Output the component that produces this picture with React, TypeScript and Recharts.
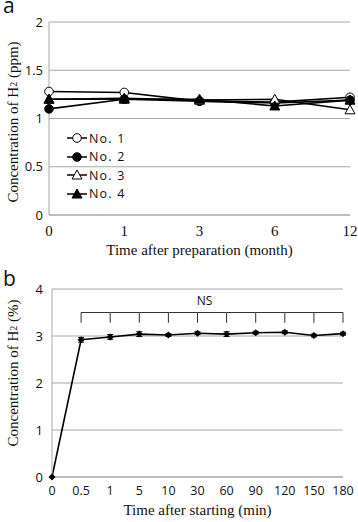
import React from "react";
import {
    LineChart,
    Line,
    XAxis,
    YAxis,
    CartesianGrid,
    Legend,
    ErrorBar,
    ReferenceDot,
} from "recharts";

// panel a: H2 concentration (ppm) over storage months
const months = ["0", "1", "3", "6", "12"];
const no1 = [1.28, 1.27, 1.18, 1.17, 1.22];
const no2 = [1.1, 1.2, 1.18, 1.16, 1.19];
const no3 = [1.2, 1.21, 1.19, 1.2, 1.09];
const no4 = [1.2, 1.2, 1.2, 1.13, 1.19];
const ticksA = [0, 0.5, 1, 1.5, 2];

// panel b: H2 concentration (%) after starting
const minutes = ["0", "0.5", "1", "5", "10", "30", "60", "90", "120", "150", "180"];
const percent = [0, 2.92, 2.98, 3.04, 3.02, 3.06, 3.04, 3.07, 3.08, 3.01, 3.05];
const percentErr = [0, 0.05, 0.05, 0.05, 0.03, 0.03, 0.05, 0.03, 0.03, 0.03, 0.03];
const ticksB = [0, 1, 2, 3, 4];
const bracketLevel = 3.5;
const bracketDrop = 0.22;

const dataA = months.map((m, i) => ({
    month: m,
    no1: no1[i],
    no2: no2[i],
    no3: no3[i],
    no4: no4[i],
}));

const dataB = minutes.map((m, i) => ({
    min: m,
    pct: percent[i],
    err: percentErr[i],
    bracket: i === 0 ? null : bracketLevel,
    bracketErr: i === 0 ? undefined : [bracketDrop, 0],
}));

const GRID = "#a8a8a8";
const SERIF = "'Liberation Serif', 'Times New Roman', serif";
const SANS = "'Open Sans', 'Liberation Sans', sans-serif";

type Shape = "circle" | "triangle";

function Marker({ cx, cy, shape, filled }: { cx: number; cy: number; shape: Shape; filled: boolean }) {
    const fill = filled ? "#000" : "#fff";
    if (shape === "circle") {
        return <circle cx={cx} cy={cy} r={4.3} fill={fill} stroke="#000" strokeWidth={1} />;
    }
    const s = 5;
    return (
        <polygon
            points={`${cx},${cy - s} ${cx + s},${cy + s * 0.8} ${cx - s},${cy + s * 0.8}`}
            fill={fill}
            stroke="#000"
            strokeWidth={1}
        />
    );
}

const dotFor = (shape: Shape, filled: boolean) => (props: any) => {
    const { cx, cy, index } = props;
    if (cx == null || cy == null) return <g key={`d-${index}`} />;
    return (
        <g key={`d-${shape}-${filled}-${index}`}>
            <Marker cx={cx} cy={cy} shape={shape} filled={filled} />
        </g>
    );
};

const series = [
    { key: "no1", name: "No. 1", shape: "circle" as Shape, filled: false },
    { key: "no2", name: "No. 2", shape: "circle" as Shape, filled: true },
    { key: "no3", name: "No. 3", shape: "triangle" as Shape, filled: false },
    { key: "no4", name: "No. 4", shape: "triangle" as Shape, filled: true },
];

function LegendBox() {
    return (
        <div>
            {series.map((s) => (
                <div key={s.key} style={{ display: "flex", alignItems: "center", height: 18.5 }}>
                    <svg width={22} height={14}>
                        <line x1={1} x2={21} y1={7} y2={7} stroke="#000" strokeWidth={1.5} />
                        <Marker cx={11} cy={7} shape={s.shape} filled={s.filled} />
                    </svg>
                    <span
                        style={{
                            fontFamily: SANS,
                            fontSize: 12.5,
                            letterSpacing: 1.2,
                            color: "#111",
                            marginLeft: 1,
                        }}
                    >
                        {s.name}
                    </span>
                </div>
            ))}
        </div>
    );
}

function YTitle({ unit, cy }: { unit: string; cy: number }) {
    return (
        <text
            transform={`translate(13, ${cy}) rotate(-90)`}
            textAnchor="middle"
            dominantBaseline="central"
            fontFamily={SERIF}
            fontSize={15}
            fill="#111"
        >
            Concentration of H
            <tspan fontSize={10}>2</tspan>
            {` (${unit})`}
        </text>
    );
}

const diamondDot = (props: any) => {
    const { cx, cy, index } = props;
    if (cx == null || cy == null) return <g key={`b-${index}`} />;
    const s = 3.5;
    return (
        <polygon
            key={`b-${index}`}
            points={`${cx},${cy - s} ${cx + s},${cy} ${cx},${cy + s} ${cx - s},${cy}`}
            fill="#000"
        />
    );
};

const panelLetter: React.CSSProperties = {
    position: "absolute",
    left: 3,
    fontFamily: SANS,
    fontSize: 21,
    lineHeight: "10px",
    color: "#111",
};

export default function App() {
    return (
        <div style={{ position: "absolute", left: 0, top: 0, width: 358, height: 522, background: "#fff" }}>
            <div style={{ ...panelLetter, top: 0 }}>a</div>
            <div style={{ ...panelLetter, top: 273 }}>b</div>

            <div style={{ position: "absolute", left: 0, top: 0 }}>
                <LineChart
                    width={358}
                    height={260}
                    data={dataA}
                    margin={{ top: 22, right: 8, left: 0, bottom: 0 }}
                >
                    <CartesianGrid stroke={GRID} vertical={false} />
                    <XAxis
                        dataKey="month"
                        height={45}
                        axisLine={{ stroke: GRID }}
                        tickLine={false}
                        tickSize={0}
                        tickMargin={10}
                        tick={{ fill: "#111", fontSize: 15, fontFamily: SERIF }}
                        label={{
                            value: "Time after preparation (month)",
                            position: "insideBottom",
                            offset: 5,
                            style: { fill: "#111", fontSize: 15, fontFamily: SERIF },
                        }}
                    />
                    <YAxis
                        width={49}
                        domain={[0, 2]}
                        ticks={ticksA}
                        axisLine={{ stroke: GRID }}
                        tickLine={false}
                        tickSize={0}
                        tickMargin={6}
                        tick={{ fill: "#111", fontSize: 13, fontFamily: SANS }}
                        label={{ content: () => <YTitle unit="ppm" cy={122} /> }}
                    />
                    <Legend
                        layout="vertical"
                        align="center"
                        verticalAlign="middle"
                        content={() => <LegendBox />}
                        wrapperStyle={{ position: "absolute", left: 66, top: 129, width: 80, height: 76 }}
                    />
                    {series.map((s) => (
                        <Line
                            key={s.key}
                            dataKey={s.key}
                            name={s.name}
                            stroke="#000"
                            strokeWidth={1.6}
                            dot={dotFor(s.shape, s.filled)}
                            isAnimationActive={false}
                        />
                    ))}
                </LineChart>
            </div>

            <div style={{ position: "absolute", left: 0, top: 260 }}>
                <LineChart
                    width={358}
                    height={262}
                    data={dataB}
                    margin={{ top: 29, right: 15, left: 0, bottom: 0 }}
                >
                    <CartesianGrid stroke={GRID} vertical={false} />
                    <XAxis
                        dataKey="min"
                        height={45}
                        axisLine={{ stroke: GRID }}
                        tickLine={false}
                        tickSize={0}
                        tickMargin={9}
                        tick={{ fill: "#111", fontSize: 12.5, fontFamily: SANS }}
                        label={{
                            value: "Time after starting (min)",
                            position: "insideBottom",
                            offset: 7,
                            style: { fill: "#111", fontSize: 15, fontFamily: SERIF },
                        }}
                    />
                    <YAxis
                        width={52}
                        domain={[0, 4]}
                        ticks={ticksB}
                        axisLine={{ stroke: GRID }}
                        tickLine={false}
                        tickSize={0}
                        tickMargin={9}
                        tick={{ fill: "#111", fontSize: 13, fontFamily: SANS }}
                        label={{ content: () => <YTitle unit="%" cy={113} /> }}
                    />
                    <Line
                        dataKey="bracket"
                        stroke="#333"
                        strokeWidth={1}
                        dot={false}
                        isAnimationActive={false}
                    >
                        <ErrorBar dataKey="bracketErr" width={0} stroke="#333" strokeWidth={1} direction="y" />
                    </Line>
                    <Line
                        dataKey="pct"
                        stroke="#000"
                        strokeWidth={1.6}
                        dot={diamondDot}
                        isAnimationActive={false}
                    >
                        <ErrorBar dataKey="err" width={3} stroke="#000" strokeWidth={1} direction="y" />
                    </Line>
                    <ReferenceDot
                        x="30"
                        y={bracketLevel}
                        r={0}
                        fill="none"
                        stroke="none"
                        label={{
                            value: "NS",
                            position: "top",
                            offset: 8,
                            dx: 7,
                            style: { fill: "#111", fontSize: 12, fontFamily: SANS },
                        }}
                    />
                </LineChart>
            </div>
        </div>
    );
}
